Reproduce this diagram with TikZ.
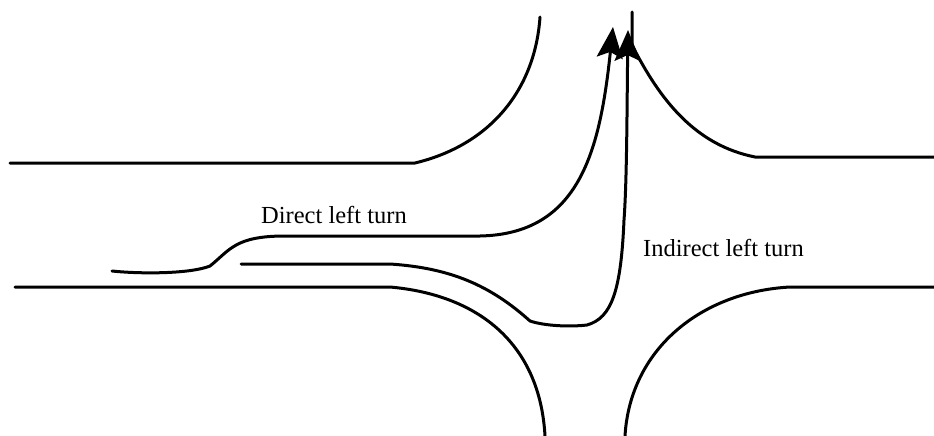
\documentclass[tikz,border=0pt]{standalone}
\usepackage{fontspec}
\setmainfont{Liberation Serif}
\usetikzlibrary{arrows.meta}
\tikzset{
  every node/.style={font=\fontsize{24.5}{28}\selectfont, inner sep=0pt},
  road/.style={line width=3pt, line cap=round, line join=round},
  turn/.style={road, -{Stealth[length=31pt,width=26pt,inset=6pt]}}
}

\begin{document}
\begin{tikzpicture}[x=1pt,y=-1pt]
  \useasboundingbox (0,0) rectangle (934,436);

  \draw[road] (10,163) -- (415,163) .. controls (490,145) and (535,90) .. (540,17);
  \draw[road] (632,12) -- (632,45) .. controls (660,100) and (695,145) .. (755,157) -- (934,157);
  \draw[road] (15,287) -- (390,287) .. controls (480,295) and (540,345) .. (545,436);
  \draw[road] (934,287) -- (790,287) .. controls (700,292) and (630,350) .. (625,436);

  \draw[turn] (112,271) .. controls (140,274) and (190,274) .. (210,266)
    .. controls (230,250) and (235,236) .. (285,236) -- (480,236)
    .. controls (580,234) and (600,150) .. (613,27);
  \draw[turn] (241,264) -- (390,264) .. controls (450,268) and (490,285) .. (530,321)
    .. controls (545,326) and (570,327) .. (587,325)
    .. controls (612,318) and (621,290) .. (624,220)
    .. controls (627,180) and (627,100) .. (628,30);

  \node[anchor=west] (direct) at (261,215) {Direct left turn};
  \node[anchor=west] (indirect) at (643,248) {Indirect left turn};
\end{tikzpicture}
\end{document}
